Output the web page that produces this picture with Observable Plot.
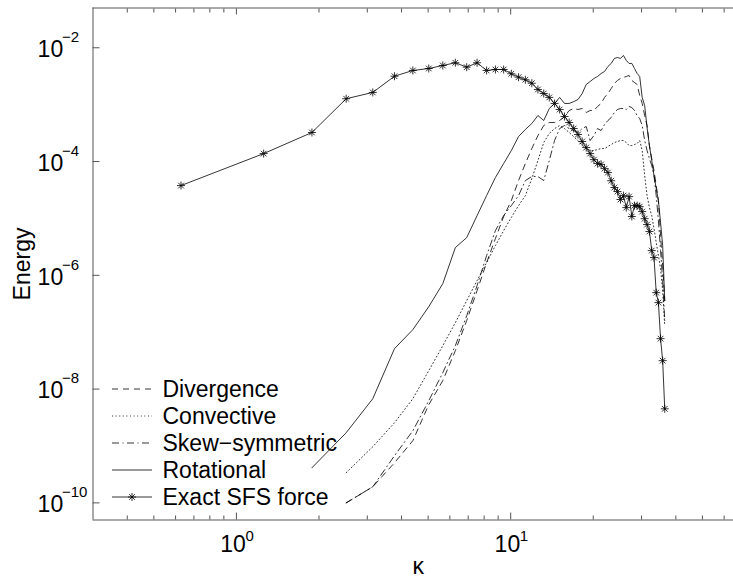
<!DOCTYPE html>
<html>
<head>
<meta charset="utf-8">
<script src="https://cdn.jsdelivr.net/npm/d3@7"></script>
<script src="https://cdn.jsdelivr.net/npm/@observablehq/plot@0.6"></script>
<style>
  html, body { margin: 0; padding: 0; background: #fff; }
  #chart { width: 733px; height: 578px; overflow: hidden; }
</style>
</head>
<body>
<div id="chart"></div>
<script>
// ---- data ----
const kappa = [0.628, 1.257, 1.885, 2.513, 3.142, 3.770, 4.398, 5.027, 5.655, 6.283,
  6.912, 7.540, 8.168, 8.796, 9.425, 10.053, 10.681, 11.310, 11.938, 12.566,
  13.195, 13.823, 14.451, 15.080, 15.708, 16.336, 16.965, 17.593, 18.221, 18.850,
  19.478, 20.106, 20.735, 21.363, 21.991, 22.619, 23.248, 23.876, 24.504, 25.133,
  25.761, 26.389, 27.018, 27.646, 28.274, 28.903, 29.531, 30.159, 30.788, 31.416,
  32.044, 32.673, 33.301, 33.929, 34.558, 35.186, 35.814, 36.442];

const exactSFS = [3.78e-5, 1.38e-4, 3.24e-4, 1.27e-3, 1.64e-3, 3.16e-3, 3.99e-3, 4.32e-3, 4.88e-3, 5.45e-3,
  4.56e-3, 5.45e-3, 3.99e-3, 4.15e-3, 4.15e-3, 3.49e-3, 3.04e-3, 2.74e-3, 2.38e-3, 1.85e-3,
  1.57e-3, 1.34e-3, 1.05e-3, 8.2e-4, 6.19e-4, 4.85e-4, 3.81e-4, 2.99e-4, 2.25e-4, 1.76e-4,
  1.38e-4, 1.08e-4, 9.2e-5, 8.9e-5, 7.5e-5, 6.4e-5, 4.6e-5, 3.49e-5, 2.97e-5, 2.15e-5,
  2.52e-5, 1.55e-5, 2.42e-5, 1.08e-5, 1.68e-5, 1.68e-5, 1.61e-5, 1.32e-5, 9.9e-6, 7.8e-6,
  5.9e-6, 2.72e-6, 2.05e-6, 4.96e-7, 3.31e-7, 7.7e-8, 3.16e-8, 4.5e-9];

const rotational = [null, null, 4.14e-10, 1.71e-9, 6.78e-9, 5.14e-8, 1.11e-7, 2.81e-7, 7.14e-7, 3.07e-6,
  4.60e-6, 1.12e-5, 2.52e-5, 5.24e-5, 9.23e-5, 1.56e-4, 2.75e-4, 3.66e-4, 4.66e-4, 6.44e-4,
  5.26e-4, 8.55e-4, 1.05e-3, 1.34e-3, 1.05e-3, 1.05e-3, 1.13e-3, 1.23e-3, 1.57e-3, 2.26e-3,
  2.55e-3, 2.88e-3, 3.13e-3, 3.53e-3, 3.83e-3, 4.69e-3, 5.30e-3, 6.49e-3, 6.75e-3, 6.49e-3,
  7.33e-3, 5.98e-3, 5.30e-3, 5.30e-3, 4.33e-3, 3.53e-3, 3.13e-3, 1.34e-3, 9.66e-4, 3.96e-4,
  1.91e-4, 1.04e-4, 5.68e-5, 3.35e-5, 2.06e-5, 8.45e-6, 3.33e-6, 3.59e-7];

const divergence = [null, null, null, 1.0e-10, 1.92e-10, 5.07e-10, 1.24e-9, 5.32e-9, 1.41e-8, 4.73e-8,
  1.60e-7, 5.38e-7, 1.67e-6, 4.43e-6, 1.08e-5, 2.06e-5, 4.63e-5, 9.23e-5, 1.69e-4, 2.86e-4,
  4.30e-4, 4.85e-4, 4.85e-4, 5.26e-4, 6.19e-4, 7.89e-4, 8.55e-4, 8.22e-4, 8.55e-4, 7.28e-4,
  7.89e-4, 7.89e-4, 9.27e-4, 1.05e-3, 1.34e-3, 1.57e-3, 1.92e-3, 2.36e-3, 2.66e-3, 2.88e-3,
  3.01e-3, 3.13e-3, 3.26e-3, 2.66e-3, 2.45e-3, 2.26e-3, 1.45e-3, 1.05e-3, 6.44e-4, 4.30e-4,
  1.91e-4, 1.13e-4, 6.95e-5, 3.78e-5, 2.06e-5, 4.99e-6, 1.48e-6, 3.59e-7];

const convective = [null, null, null, 3.39e-10, 9.7e-10, 2.56e-9, 6.78e-9, 2.11e-8, 5.79e-8, 1.47e-7,
  3.59e-7, 8.07e-7, 1.67e-6, 3.33e-6, 6.11e-6, 1.04e-5, 1.68e-5, 2.52e-5, 5.02e-5, 1.04e-4,
  2.16e-4, 3.11e-4, 3.80e-4, 4.30e-4, 3.80e-4, 3.24e-4, 2.75e-4, 2.34e-4, 1.91e-4, 1.69e-4,
  1.56e-4, 1.56e-4, 1.63e-4, 1.69e-4, 1.69e-4, 1.84e-4, 1.99e-4, 2.16e-4, 2.25e-4, 2.34e-4,
  2.34e-4, 2.16e-4, 1.91e-4, 1.91e-4, 1.99e-4, 2.07e-4, 2.34e-4, 1.56e-4, 5.68e-5, 2.52e-5,
  1.55e-5, 1.12e-5, 6.62e-6, 3.76e-6, 2.22e-6, 1.31e-6, 5.38e-7, 1.30e-7];

const skewSymmetric = [null, null, null, 1.0e-10, 1.92e-10, 6.75e-10, 1.85e-9, 6.25e-9, 1.95e-8, 5.79e-8,
  1.95e-7, 6.59e-7, 2.22e-6, 6.11e-6, 1.12e-5, 1.68e-5, 2.52e-5, 4.63e-5, 5.45e-5, 5.45e-5,
  4.63e-5, 1.04e-4, 2.34e-4, 3.80e-4, 4.30e-4, 3.80e-4, 3.51e-4, 3.24e-4, 3.80e-4, 4.13e-4,
  2.34e-4, 2.86e-4, 3.80e-4, 3.51e-4, 4.48e-4, 5.26e-4, 5.94e-4, 7.28e-4, 8.22e-4, 8.55e-4,
  8.55e-4, 8.22e-4, 9.27e-4, 8.91e-4, 7.89e-4, 6.44e-4, 5.70e-4, 4.30e-4, 2.34e-4, 1.56e-4,
  1.13e-4, 8.51e-5, 5.68e-5, 2.52e-5, 9.16e-6, 2.72e-6, 8.07e-7, 1.60e-7];

const seriesNames = ["Divergence", "Convective", "Skew\u2212symmetric", "Rotational", "Exact SFS force"];
const xMajorTicks = [1, 10];
const xMinorTicks = [0.4, 0.5, 0.6, 0.7, 0.8, 0.9, 2, 3, 4, 5, 6, 7, 8, 9, 20, 30, 40, 50, 60, 70];
const yTicks = [1e-2, 1e-4, 1e-6, 1e-8, 1e-10];
const xLabel = "\u03ba";
const yLabel = "Energy";

// ---- styles ----
const FONT = "'Liberation Sans', Arial, Helvetica, sans-serif";
const AXIS = "#555";
const INK = "#000";
const LW = 0.8;
const dashOf = {
  "Divergence": "6,5",
  "Convective": "1,2.6",
  "Skew\u2212symmetric": "7,3.5,1,3.5",
  "Rotational": null,
  "Exact SFS force": null
};
const seriesValues = [divergence, convective, skewSymmetric, rotational, exactSFS];

const asterisk = {
  draw(ctx, size) {
    const r = Math.sqrt(size / Math.PI);
    const d = r * Math.SQRT1_2;
    ctx.moveTo(-r, 0); ctx.lineTo(r, 0);
    ctx.moveTo(0, -r); ctx.lineTo(0, r);
    ctx.moveTo(-d, -d); ctx.lineTo(d, d);
    ctx.moveTo(-d, d); ctx.lineTo(d, -d);
  }
};

const tables = seriesValues.map(vals => kappa.map((k, i) => ({k, v: vals[i]})));

const lineMarks = seriesNames.map((name, i) =>
  Plot.line(tables[i], {x: "k", y: "v", stroke: INK, strokeWidth: LW,
    strokeDasharray: dashOf[name] || undefined, strokeLinejoin: "round"})
);

function legend(index, scales, values, dimensions) {
  const ml = (dimensions && isFinite(dimensions.marginLeft)) ? dimensions.marginLeft : 92.5;
  const g = d3.create("svg:g")
    .attr("font-family", FONT).attr("font-size", 23);
  seriesNames.forEach((name, i) => {
    const y = 389 + 27 * i;
    const x1 = ml + 19.5, x2 = ml + 59.5;
    const line = g.append("line")
      .attr("x1", x1).attr("x2", x2).attr("y1", y).attr("y2", y)
      .attr("fill", "none").attr("stroke", INK).attr("stroke-width", LW);
    if (dashOf[name]) line.attr("stroke-dasharray", dashOf[name]);
    if (name === "Exact SFS force") {
      const p = d3.path();
      asterisk.draw(p, 16 * Math.PI);
      g.append("path").attr("d", p.toString())
        .attr("transform", `translate(${(x1 + x2) / 2},${y})`)
        .attr("fill", "none").attr("stroke", INK).attr("stroke-width", LW);
    }
    g.append("text").attr("x", ml + 70).attr("y", y + 8)
      .attr("text-anchor", "start").attr("fill", INK).attr("stroke", "none")
      .text(name);
  });
  return g.node();
}

const chart = Plot.plot({
  width: 733,
  height: 578,
  marginLeft: 92.5,
  marginRight: 0,
  marginTop: 7.5,
  marginBottom: 58.5,
  style: {fontFamily: FONT, background: "#fff", color: INK},
  x: {type: "log", domain: [0.3, 70], range: [92.5, 742]},
  y: {type: "log", domain: [5e-11, 5e-2]},
  marks: [
    // frame (right side lies outside the picture)
    Plot.ruleX([0.3], {stroke: AXIS}),
    Plot.ruleY([5e-2], {stroke: AXIS}),
    Plot.ruleY([5e-11], {stroke: AXIS}),
    // inward ticks
    Plot.axisX(xMajorTicks, {anchor: "bottom", tickSize: 7, dy: -7, fill: "none", tickFormat: () => "", label: null, stroke: AXIS}),
    Plot.axisX(xMinorTicks, {anchor: "bottom", tickSize: 4, dy: -4, fill: "none", tickFormat: () => "", label: null, stroke: AXIS}),
    Plot.axisX(xMajorTicks, {anchor: "top", tickSize: 6, dy: 6, fill: "none", tickFormat: () => "", label: null, stroke: AXIS}),
    Plot.axisX(xMinorTicks, {anchor: "top", tickSize: 4, dy: 4, fill: "none", tickFormat: () => "", label: null, stroke: AXIS}),
    Plot.axisY(yTicks, {anchor: "left", tickSize: 7, dx: 7, fill: "none", tickFormat: () => "", label: null, stroke: AXIS}),
    // tick labels 10^n
    Plot.text(yTicks, {y: d => d, text: () => "10", frameAnchor: "left", textAnchor: "end", lineAnchor: "bottom", dx: -29.8, dy: 9.4, fontSize: 23, fill: INK}),
    Plot.text(yTicks, {y: d => d, text: d => "\u2212" + Math.round(-Math.log10(d)), frameAnchor: "left", textAnchor: "start", lineAnchor: "bottom", dx: -31, dy: -5.6, fontSize: 15, fill: INK}),
    Plot.text(xMajorTicks, {x: d => d, text: () => "10", frameAnchor: "bottom", textAnchor: "end", lineAnchor: "bottom", dx: 9.5, dy: 32.4, fontSize: 23, fill: INK}),
    Plot.text(xMajorTicks, {x: d => d, text: d => String(Math.round(Math.log10(d))), frameAnchor: "bottom", textAnchor: "start", lineAnchor: "bottom", dx: 9, dy: 20.5, fontSize: 15, fill: INK}),
    // axis labels
    Plot.text([yLabel], {text: d => d, frameAnchor: "left", rotate: -90, textAnchor: "middle", lineAnchor: "bottom", dx: -63.3, fontSize: 23, fill: INK}),
    Plot.text([xLabel], {text: d => d, frameAnchor: "bottom", textAnchor: "middle", lineAnchor: "bottom", dx: 5, dy: 53.5, fontSize: 23, fill: INK}),
    // data
    ...lineMarks,
    Plot.dot(tables[4], {x: "k", y: "v", symbol: asterisk, r: 4, stroke: INK, fill: "none", strokeWidth: LW}),
    legend
  ]
});
document.getElementById("chart").appendChild(chart);
</script>
</body>
</html>
